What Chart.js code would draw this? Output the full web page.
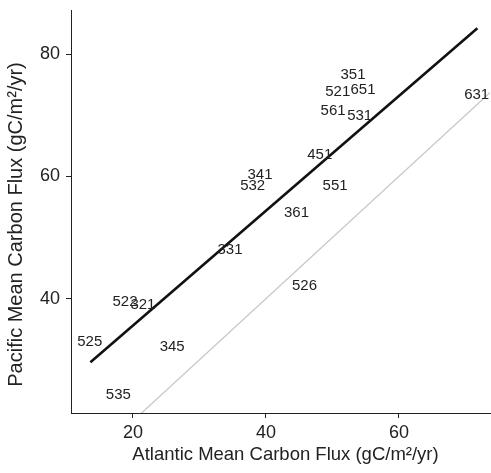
<!DOCTYPE html>
<html>
<head>
<meta charset="utf-8">
<script src="https://cdn.jsdelivr.net/npm/chart.js@4.4.0/dist/chart.umd.min.js"></script>
<style>
html,body{margin:0;padding:0;background:#fff;}
#wrap{width:491px;height:473px;position:relative;}
</style>
</head>
<body>
<div id="wrap"><canvas id="c" width="491" height="473"></canvas></div>
<script>
// ---- data ----
const stationLabels = ['351','521','651','561','531','631','451','341','532','551','361','331','522','321','525','345','535','526'];
const atlanticFlux = [53.1,50.8,54.6,50.1,54.1,71.7,48.1,39.1,38.0,50.4,44.6,34.6,18.8,21.5,13.5,25.9,17.8,45.8];
const pacificFlux  = [76.6,73.8,74.1,70.7,69.9,73.3,63.5,60.2,58.4,58.4,54.0,48.0,39.4,39.0,33.0,32.1,24.2,42.1];
const fitX = [13.6, 71.8];
const fitY = [29.6, 84.2];
const oneToOne = [0, 100];
const xTicks = [20, 40, 60];
const yTicks = [40, 60, 80];
const xTitle = 'Atlantic Mean Carbon Flux (gC/m\u00B2/yr)';
const yTitle = 'Pacific Mean Carbon Flux (gC/m\u00B2/yr)';

const FONT = "'Liberation Sans', Arial, Helvetica, sans-serif";

const labelPlugin = {
  id: 'pointLabels',
  afterDatasetsDraw(chart) {
    const ctx = chart.ctx;
    const xs = chart.scales.x, ys = chart.scales.y;
    ctx.save();
    ctx.font = '15px ' + FONT;
    ctx.fillStyle = '#222';
    ctx.textAlign = 'center';
    ctx.textBaseline = 'middle';
    stationLabels.forEach((lab, i) => {
      ctx.fillText(lab, xs.getPixelForValue(atlanticFlux[i]), ys.getPixelForValue(pacificFlux[i]));
    });
    ctx.restore();
  }
};

const titlePlugin = {
  id: 'axisTitles',
  afterDraw(chart) {
    const ctx = chart.ctx;
    const a = chart.chartArea;
    ctx.save();
    ctx.fillStyle = '#222';
    ctx.textAlign = 'center';
    ctx.textBaseline = 'middle';
    ctx.font = '18.5px ' + FONT;
    ctx.fillText(xTitle, (a.left + a.right) / 2 + 5, a.bottom + 42);
    ctx.font = '20px ' + FONT;
    ctx.translate(16, (a.top + a.bottom) / 2 + 13);
    ctx.rotate(-Math.PI / 2);
    ctx.fillText(yTitle, 0, 0);
    ctx.restore();
  }
};

const pts = atlanticFlux.map((x, i) => ({x: x, y: pacificFlux[i]}));

new Chart(document.getElementById('c'), {
  type: 'scatter',
  data: {
    datasets: [
      {
        data: oneToOne.map(v => ({x: v, y: v})),
        showLine: true, borderColor: '#c8c8c8', borderWidth: 1.3, pointRadius: 0
      },
      {
        data: fitX.map((x, i) => ({x: x, y: fitY[i]})),
        showLine: true, borderColor: '#111', borderWidth: 2.6, pointRadius: 0
      },
      {
        data: pts, pointRadius: 0, showLine: false
      }
    ]
  },
  options: {
    responsive: false,
    animation: false,
    devicePixelRatio: 1,
    layout: {padding: {top: 10, right: 1, left: 0, bottom: 0}},
    plugins: {legend: {display: false}, tooltip: {enabled: false}},
    scales: {
      x: {
        type: 'linear', min: 10.68, max: 73.7,
        afterBuildTicks(s) { s.ticks = xTicks.map(v => ({value: v})); },
        afterFit(s) { s.height = 60; s.paddingLeft = 0; s.paddingRight = 0; },
        grid: {display: true, drawOnChartArea: false, drawTicks: true, tickLength: 5, color: '#222'},
        border: {display: true, color: '#222', width: 1},
        ticks: {color: '#222', font: {size: 18, family: FONT}, padding: 4, maxRotation: 0}
      },
      y: {
        type: 'linear', min: 21.3, max: 87.2,
        afterBuildTicks(s) { s.ticks = yTicks.map(v => ({value: v})); },
        afterFit(s) { s.width = 71; s.paddingTop = 0; s.paddingBottom = 0; },
        grid: {display: true, drawOnChartArea: false, drawTicks: true, tickLength: 5, color: '#222'},
        border: {display: true, color: '#222', width: 1},
        ticks: {color: '#222', font: {size: 18, family: FONT}, padding: 6}
      }
    }
  },
  plugins: [labelPlugin, titlePlugin]
});
</script>
</body>
</html>
